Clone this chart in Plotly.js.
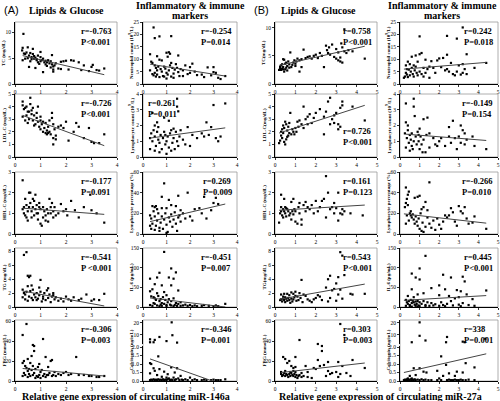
<!DOCTYPE html>
<html><head><meta charset="utf-8">
<script src="https://cdn.plot.ly/plotly-3.0.1.min.js"></script>
<style>body{margin:0;background:#fff}#chart{width:500px;height:401px}</style>
</head><body><div id="chart"></div>
<script>
// ---------- DATA ----------
// Group A: miR-146a (x 0-4)
const ptsA_TC = [[0.33,9.7],[0.28,6.5],[0.3,7.0],[0.3,4.6],[0.4,5.8],[0.45,6.1],[0.5,7.1],[0.5,5.0],[0.55,5.5],[0.6,4.4],[0.6,6.0],[0.65,5.2],[0.7,6.8],[0.7,5.8],[0.75,5.4],[0.75,4.9],[0.8,5.1],[0.8,3.1],[0.85,4.6],[0.9,5.5],[0.9,4.2],[0.95,3.9],[1.0,6.2],[1.0,4.4],[1.05,4.6],[1.1,2.3],[1.1,4.9],[1.15,4.2],[1.2,3.8],[1.2,4.5],[1.25,3.5],[1.3,4.6],[1.35,4.0],[1.4,3.2],[1.45,5.6],[1.45,3.8],[1.5,2.4],[1.5,2.8],[1.55,3.6],[1.6,4.0],[1.7,3.0],[1.8,2.9],[1.8,4.3],[1.9,4.4],[2.0,4.5],[2.1,2.8],[2.2,4.6],[2.3,4.5],[2.5,4.2],[2.6,2.7],[2.7,3.6],[2.9,2.5],[3.0,3.3],[3.05,3.7],[3.2,2.7],[3.3,2.6],[3.5,3.0],[0.35,5.9],[0.4,4.9],[0.55,3.3],[0.65,4.8],[0.85,4.8],[1.0,5.2],[1.25,4.2],[1.4,4.4],[1.5,3.4]];
const fitA_TC = [[0.3,5.5],[3.5,1.8]];

const ptsA_Neut = [[0.45,22.8],[0.5,18.5],[0.7,19.2],[1.2,19.3],[0.3,12.0],[1.0,12.6],[1.1,12.8],[1.15,12.2],[1.05,11.0],[1.5,11.5],[0.6,11.2],[0.7,9.8],[0.8,9.5],[0.4,8.5],[0.35,9.0],[0.5,7.5],[0.55,6.5],[0.6,5.5],[0.3,5.5],[0.4,4.0],[0.45,3.5],[0.5,4.5],[0.6,3.8],[0.65,7.0],[0.75,6.0],[0.8,5.0],[0.85,3.2],[0.9,7.0],[0.95,6.2],[1.0,4.5],[1.05,3.8],[1.1,5.5],[1.15,7.5],[1.2,8.5],[1.25,6.5],[1.3,4.2],[1.35,5.8],[1.4,8.0],[1.45,6.5],[1.5,4.8],[1.55,3.2],[1.6,6.0],[1.7,5.5],[1.8,7.5],[1.9,4.0],[2.0,6.8],[2.1,8.2],[2.2,5.0],[2.3,3.6],[2.5,3.8],[2.6,2.8],[2.75,6.7],[2.9,3.5],[3.0,4.8],[3.1,4.5],[3.2,2.5],[3.3,2.0],[3.0,6.8],[1.0,2.2],[0.9,3.0],[0.7,2.8],[1.2,3.0],[0.55,3.0],[1.3,2.5],[1.7,3.2],[2.0,4.5],[3.5,3.2]];
const fitA_Neut = [[0.3,8.0],[3.5,3.2]];

const ptsA_LDL = [[0.3,4.4],[0.3,4.1],[0.35,3.8],[0.4,3.9],[0.45,3.3],[0.5,3.6],[0.55,3.0],[0.6,4.7],[0.6,4.2],[0.65,3.4],[0.65,3.7],[0.7,3.9],[0.7,2.9],[0.75,3.3],[0.8,2.6],[0.85,3.1],[0.9,4.0],[0.9,2.8],[0.95,2.4],[1.0,3.2],[1.0,2.2],[1.05,2.6],[1.1,2.8],[1.1,2.0],[1.15,2.3],[1.2,2.7],[1.2,1.9],[1.25,2.1],[1.3,1.9],[1.3,2.4],[1.35,2.0],[1.4,1.8],[1.45,3.5],[1.45,3.1],[1.5,2.6],[1.5,1.5],[1.5,1.0],[1.55,2.2],[1.6,1.7],[1.7,2.4],[1.8,2.5],[1.9,2.3],[2.0,2.8],[2.1,1.3],[2.3,2.0],[2.4,2.7],[2.5,2.4],[2.7,1.5],[2.9,2.3],[3.0,1.2],[3.1,1.1],[3.3,1.1],[3.5,1.8],[0.3,3.2],[0.4,2.9],[0.5,2.7],[0.55,3.6],[0.75,2.5],[0.85,3.5],[1.0,2.9],[1.25,1.8],[1.35,2.9],[1.6,1.4],[0.45,4.0]];
const fitA_LDL = [[0.3,3.3],[3.5,0.9]];

const ptsA_LymC = [[1.45,3.7],[1.45,3.2],[1.5,2.9],[3.0,3.3],[3.5,3.4],[0.4,2.8],[0.9,2.5],[1.1,2.3],[0.5,2.0],[0.6,2.2],[2.7,2.2],[1.9,1.9],[2.9,1.9],[0.3,1.2],[0.35,1.5],[0.4,1.0],[0.45,1.7],[0.5,1.3],[0.55,0.7],[0.6,1.6],[0.65,1.1],[0.7,0.9],[0.75,1.4],[0.8,0.5],[0.85,1.2],[0.9,1.6],[0.95,0.8],[1.0,1.0],[1.05,1.3],[1.1,0.6],[1.15,1.5],[1.2,1.7],[1.25,0.9],[1.3,1.2],[1.35,0.5],[1.4,1.6],[1.45,1.0],[1.5,0.7],[1.55,1.3],[1.6,1.7],[1.7,1.1],[1.8,0.8],[2.0,0.7],[2.1,1.4],[2.3,1.2],[2.5,1.5],[2.6,1.3],[2.8,1.4],[3.1,1.2],[3.2,1.0],[3.3,1.3],[0.3,0.5],[0.5,0.4],[0.7,0.3],[1.0,0.2],[1.2,0.4],[0.95,1.4],[0.65,1.9],[1.3,1.8]];
const fitA_LymC = [[0.3,1.2],[3.5,1.85]];

const ptsA_HDL = [[0.3,2.6],[0.3,1.2],[0.35,1.0],[0.4,0.9],[0.45,1.4],[0.5,0.65],[0.5,1.1],[0.55,2.0],[0.6,2.0],[0.6,1.5],[0.65,0.8],[0.7,1.3],[0.7,1.7],[0.75,1.6],[0.8,1.2],[0.8,1.9],[0.85,1.4],[0.9,1.0],[0.9,0.7],[0.95,1.5],[1.0,0.5],[1.0,1.2],[1.05,0.4],[1.1,1.3],[1.1,0.8],[1.15,1.1],[1.2,0.9],[1.25,1.2],[1.3,0.6],[1.35,1.7],[1.4,1.0],[1.45,1.5],[1.5,1.1],[1.5,0.8],[1.55,1.3],[1.6,0.9],[1.7,1.0],[1.8,1.45],[1.9,1.1],[2.0,1.2],[2.05,0.9],[2.2,1.6],[2.35,1.15],[2.5,0.8],[2.7,1.3],[2.95,1.9],[3.0,1.15],[3.2,1.0],[3.5,0.55],[0.35,1.3],[0.45,0.8],[0.55,1.3],[0.65,1.1],[0.75,0.9],[0.85,1.0],[0.95,1.3],[1.2,0.65],[1.3,1.0],[1.4,1.3],[0.4,1.7]];
const fitA_HDL = [[0.3,1.25],[3.5,0.95]];

const ptsA_LymP = [[0.9,49],[1.5,37],[1.9,40],[2.6,36],[3.1,35],[3.0,30],[3.2,29],[0.8,36],[1.1,33],[0.5,26],[0.55,27],[0.6,24],[0.4,27],[1.0,25],[1.4,27],[1.6,23],[0.3,18],[0.35,15],[0.4,10],[0.45,22],[0.5,17],[0.55,8],[0.6,13],[0.65,20],[0.7,6],[0.75,11],[0.8,17],[0.85,5],[0.9,14],[0.95,20],[1.0,9],[1.05,2],[1.1,16],[1.15,12],[1.2,19],[1.25,7],[1.3,14],[1.35,21],[1.4,10],[1.45,3],[1.5,16],[1.55,18],[1.6,12],[1.7,20],[1.8,15],[2.0,17],[2.1,13],[2.2,24],[2.4,25],[2.5,20],[2.7,15],[2.9,23],[0.3,8],[0.35,5],[0.5,4],[0.7,3],[1.0,1],[0.8,25],[1.2,28]];
const fitA_LymP = [[0.3,12],[3.5,29]];

const ptsA_TG = [[0.35,7.5],[0.45,7.9],[0.5,4.5],[0.55,4.3],[0.6,4.5],[1.0,3.9],[0.3,2.5],[0.35,2.0],[0.4,1.8],[0.45,2.2],[0.5,3.0],[0.55,1.5],[0.6,2.3],[0.65,3.1],[0.7,1.0],[0.75,1.8],[0.8,1.4],[0.85,2.0],[0.9,1.2],[0.95,1.7],[1.0,2.2],[1.05,0.8],[1.1,1.5],[1.15,2.0],[1.2,1.0],[1.25,2.4],[1.3,1.3],[1.35,1.8],[1.4,0.7],[1.45,1.5],[1.5,2.0],[1.55,1.1],[1.6,1.4],[1.7,0.9],[1.8,1.2],[1.9,0.8],[2.0,1.5],[2.1,1.1],[2.2,0.9],[2.3,1.4],[2.5,1.0],[2.6,1.2],[2.8,1.8],[3.0,0.9],[3.1,1.1],[3.3,1.0],[3.5,1.9],[0.3,1.4],[0.4,1.1],[0.5,0.9],[0.65,1.3],[0.7,2.5],[0.85,1.0],[0.95,2.8],[1.1,1.2],[1.3,2.7],[1.5,1.7]];
const fitA_TG = [[0.3,2.3],[3.5,0.15]];

const ptsA_IL6 = [[0.9,140],[1.2,98],[0.7,87],[1.4,88],[0.6,75],[1.1,75],[1.3,72],[0.3,72],[0.5,58],[0.8,55],[1.2,55],[0.4,45],[0.3,40],[1.5,42],[0.6,35],[0.9,38],[1.0,30],[0.35,27],[0.45,25],[0.5,22],[0.55,18],[0.65,28],[0.7,15],[0.75,20],[0.8,10],[0.85,25],[0.9,8],[0.95,18],[1.0,5],[1.05,12],[1.1,20],[1.15,6],[1.2,15],[1.3,22],[1.35,5],[1.4,10],[1.45,3],[1.5,8],[1.6,12],[1.7,4],[1.8,6],[1.9,3],[2.0,5],[2.1,2],[2.2,4],[2.3,2],[2.5,3],[2.6,5],[2.8,3],[3.0,2],[3.1,4],[3.2,2],[3.5,8],[0.3,5],[0.4,3],[0.5,8],[0.6,4],[0.7,2],[0.8,3],[1.0,2],[1.2,4],[1.3,2],[1.6,3],[0.45,10],[0.75,6]];
const fitA_IL6 = [[0.3,23],[3.5,0]];

const ptsA_FBG = [[0.45,57],[0.3,46],[1.1,42],[0.7,36],[0.75,35],[0.75,30],[0.65,25],[1.2,24],[0.5,22],[0.3,18],[0.35,20],[0.4,15],[0.45,13],[0.5,10],[0.55,12],[0.6,18],[0.65,11],[0.7,15],[0.75,8],[0.8,12],[0.85,5],[0.9,14],[0.95,6],[1.0,9],[1.05,11],[1.1,5],[1.15,7],[1.2,4],[1.3,14],[1.35,8],[1.4,20],[1.45,21],[1.5,6],[1.55,9],[1.6,5],[1.7,7],[1.8,6],[1.9,8],[2.0,9],[2.1,6],[2.2,7],[2.4,24],[2.5,6],[2.7,6],[2.9,5],[3.0,5],[3.2,4],[3.3,4],[3.5,5],[0.3,5],[0.35,8],[0.4,6],[0.5,4],[0.55,7],[0.6,5],[0.7,6],[0.8,3],[0.9,4],[1.0,3],[1.25,6],[1.45,5],[0.95,17],[1.3,6]];
const fitA_FBG = [[0.3,12.5],[3.5,5]];

const ptsA_Calc = [[1.22,20.5],[1.25,9.5],[0.7,8.0],[0.3,6.0],[0.5,5.5],[1.0,4.5],[0.3,3.5],[0.45,3.5],[1.45,3.2],[0.65,1.45],[0.3,1.05],[0.35,1.0],[0.45,0.75],[0.3,0.45],[0.5,0.6],[0.7,0.7],[0.9,0.55],[1.05,0.4],[1.2,0.8],[1.35,0.5],[1.45,0.75],[1.6,0.3],[0.6,0.35],[0.8,0.25],[1.0,0.2],[1.1,0.15],[1.3,0.2],[1.5,0.15],[1.8,0.1],[2.0,0.2],[2.2,0.1],[0.3,0.05],[0.35,0.08],[0.4,0.05],[0.45,0.1],[0.5,0.05],[0.55,0.08],[0.6,0.05],[0.65,0.1],[0.7,0.05],[0.75,0.08],[0.8,0.05],[0.85,0.1],[0.9,0.05],[0.95,0.08],[1.0,0.05],[1.05,0.1],[1.15,0.05],[1.2,0.08],[1.25,0.05],[1.35,0.05],[1.4,0.1],[1.55,0.05],[1.65,0.08],[1.7,0.05],[1.9,0.05],[2.1,0.05],[2.3,0.05],[2.5,0.05],[2.7,0.05],[2.9,0.05],[3.1,0.05],[3.2,0.05],[3.3,0.05],[3.5,0.1],[2.6,0.08],[3.0,0.08]];
const fitA_Calc = [[0.3,1.3],[2.95,0.0]];

// Group B: miR-27a (x 0-5)
const ptsB_TC = [[3.4,9.7],[3.25,7.2],[2.8,7.0],[2.65,6.5],[2.55,6.0],[2.5,6.8],[3.0,6.2],[3.1,5.6],[3.3,6.5],[3.4,5.8],[3.6,6.0],[3.8,5.8],[4.4,4.5],[3.2,4.7],[3.1,4.2],[3.0,4.5],[3.2,4.0],[3.3,3.8],[2.9,4.8],[2.7,5.2],[2.4,3.0],[2.3,5.0],[2.2,5.5],[2.0,5.2],[1.9,5.0],[1.8,4.5],[1.7,4.9],[1.5,4.6],[1.4,6.1],[1.3,4.4],[1.2,4.2],[1.1,4.5],[1.05,4.0],[1.0,3.6],[0.95,4.2],[0.9,3.8],[0.85,3.4],[0.8,3.0],[0.75,5.6],[0.7,3.5],[0.65,4.0],[0.6,3.2],[0.55,2.9],[0.5,3.6],[0.45,4.3],[0.4,4.4],[0.4,3.0],[0.35,2.7],[0.3,3.3],[0.3,2.5],[0.25,2.8],[0.2,2.5],[0.45,2.2],[0.5,2.6],[0.6,2.4],[0.7,2.9],[1.0,3.2],[1.2,2.2],[1.3,3.0],[0.55,3.8],[0.35,3.5],[0.25,3.0],[0.4,2.6],[2.6,5.5],[2.1,4.6],[1.6,4.8],[3.5,5.5]];
const fitB_TC = [[0.2,3.3],[4.4,6.7]];

const ptsB_Neut = [[3.2,22.8],[1.0,19.2],[2.4,19.4],[2.9,18.3],[1.1,12.5],[1.0,12.0],[2.4,11.8],[3.4,12.0],[0.6,11.0],[0.8,11.5],[2.2,10.5],[2.0,10.3],[1.9,9.5],[1.6,9.2],[1.3,9.8],[0.9,9.0],[0.4,9.0],[0.5,8.0],[0.3,7.5],[0.35,6.0],[0.3,4.5],[0.25,3.0],[0.2,2.5],[0.4,2.8],[0.5,3.5],[0.55,5.0],[0.6,6.5],[0.65,4.0],[0.7,3.0],[0.75,5.5],[0.8,7.0],[0.85,4.5],[0.9,3.5],[1.0,5.0],[1.1,4.0],[1.2,3.0],[1.3,4.5],[1.4,6.0],[1.5,2.5],[1.5,7.0],[1.7,6.5],[1.8,4.5],[2.1,6.8],[2.3,5.5],[2.5,5.0],[2.6,8.5],[2.7,4.0],[2.8,3.5],[2.9,5.0],[3.0,7.5],[3.2,4.5],[3.3,6.0],[3.4,4.0],[3.2,8.0],[3.8,6.5],[4.4,8.5],[0.45,5.8],[0.35,3.8],[0.7,7.5],[1.2,6.5],[2.4,6.0],[3.1,3.8]];
const fitB_Neut = [[0.2,6.0],[4.4,8.7]];

const ptsB_LDL = [[2.7,4.7],[2.6,4.4],[3.3,4.4],[3.3,4.1],[3.8,4.0],[3.2,3.9],[2.5,3.6],[2.9,3.3],[3.0,3.5],[1.4,4.0],[1.7,3.4],[1.5,3.0],[1.6,3.2],[2.2,3.8],[2.0,3.5],[1.9,3.1],[1.8,2.7],[2.4,3.2],[2.8,3.0],[3.1,2.6],[3.1,2.2],[3.2,2.4],[2.9,2.7],[2.7,2.6],[2.4,1.8],[4.4,2.9],[1.2,2.9],[1.3,2.6],[1.1,2.8],[1.0,2.3],[0.9,2.0],[0.8,1.8],[0.75,3.5],[0.7,2.7],[0.65,2.4],[0.6,2.1],[0.55,2.6],[0.5,2.8],[0.45,2.3],[0.4,1.9],[0.35,2.2],[0.3,1.7],[0.25,1.3],[0.2,1.1],[0.35,1.5],[0.45,1.2],[0.5,1.0],[0.55,1.4],[0.6,1.6],[0.7,1.9],[0.85,2.2],[0.95,1.8],[1.05,2.0],[1.15,2.4],[1.4,2.3],[1.6,2.6],[0.3,2.0],[0.4,2.5],[0.65,1.7]];
const fitB_LDL = [[0.2,1.9],[4.4,4.1]];

const ptsB_LymC = [[0.3,3.4],[0.7,3.7],[0.7,3.2],[0.75,2.6],[0.3,2.2],[0.4,2.0],[1.2,2.4],[1.4,2.5],[2.7,2.3],[3.1,2.0],[2.5,1.9],[3.2,1.7],[3.3,1.5],[0.25,1.5],[0.35,1.2],[0.4,1.7],[0.45,0.9],[0.5,1.4],[0.55,1.1],[0.6,0.7],[0.6,1.5],[0.65,0.5],[0.7,1.0],[0.8,1.3],[0.85,0.8],[0.9,1.6],[0.95,1.0],[1.0,0.5],[1.05,1.3],[1.1,0.8],[1.2,1.1],[1.3,0.3],[1.35,1.4],[1.5,1.5],[1.5,0.6],[1.7,1.2],[1.8,0.8],[1.9,0.7],[2.0,1.0],[2.1,1.2],[2.3,0.7],[2.5,1.3],[2.6,0.9],[2.8,1.2],[2.9,0.5],[3.0,1.3],[3.1,0.9],[3.3,0.8],[3.4,1.1],[3.7,1.3],[3.8,0.7],[4.4,0.5],[0.3,0.6],[0.5,0.4],[1.0,1.8],[1.15,0.3],[0.95,1.4]];
const fitB_LymC = [[0.3,1.45],[4.4,1.05]];

const ptsB_HDL = [[2.5,2.8],[2.6,2.0],[3.1,2.0],[2.4,1.7],[2.3,1.6],[2.0,1.6],[1.8,1.4],[1.5,1.55],[1.4,1.4],[1.2,1.5],[0.9,1.7],[0.8,1.55],[0.3,1.9],[0.45,1.7],[0.5,1.3],[0.4,1.2],[0.3,1.1],[0.25,1.0],[0.2,0.55],[0.35,0.9],[0.4,0.8],[0.45,1.1],[0.5,1.0],[0.55,0.85],[0.6,1.2],[0.65,1.1],[0.7,0.9],[0.75,1.0],[0.8,0.7],[0.85,1.1],[0.9,0.95],[0.95,1.2],[1.0,1.1],[1.0,0.6],[1.1,0.5],[1.2,1.0],[1.3,0.7],[1.3,0.45],[1.5,1.1],[1.6,1.3],[1.7,1.2],[1.9,1.0],[2.1,1.1],[2.2,1.3],[2.5,0.8],[2.7,1.2],[2.8,1.3],[2.9,1.0],[3.0,1.25],[3.1,0.65],[3.2,1.0],[3.3,0.95],[3.4,1.1],[3.7,1.0],[4.3,0.9],[0.3,1.3],[0.55,1.25],[1.15,1.3],[2.9,1.5],[3.3,1.2]];
const fitB_HDL = [[0.2,1.15],[4.4,1.4]];

const ptsB_LymP = [[1.5,50],[0.3,45],[0.45,41],[0.4,38],[0.35,34],[0.3,30],[0.25,26],[0.4,28],[0.75,35],[0.9,36],[1.0,37],[1.3,31],[1.2,26],[1.4,23],[0.5,20],[0.55,18],[0.6,16],[0.65,19],[0.7,14],[0.75,10],[0.8,17],[0.85,12],[0.9,8],[0.95,15],[1.0,5],[1.05,20],[1.1,3],[1.15,11],[1.2,2],[1.3,7],[1.4,16],[1.5,10],[1.6,6],[1.7,13],[1.8,4],[1.9,15],[2.0,9],[2.1,5],[2.2,12],[2.4,16],[2.5,18],[2.6,25],[2.7,21],[2.8,12],[2.9,8],[3.0,27],[3.1,22],[3.2,20],[3.3,26],[3.4,15],[3.5,10],[3.7,11],[3.8,17],[4.4,5],[0.35,18],[0.45,13],[0.55,22],[0.3,10],[1.1,24],[2.3,18]];
const fitB_LymP = [[0.2,19.5],[4.4,10.5]];

const ptsB_TG = [[3.2,7.9],[3.3,7.4],[2.7,4.5],[3.4,4.6],[3.1,4.3],[2.6,4.0],[3.0,3.4],[1.3,3.9],[2.5,2.8],[2.8,2.4],[2.9,2.6],[3.2,2.5],[3.8,1.8],[4.4,1.9],[2.2,1.5],[2.0,1.3],[1.9,1.1],[1.7,0.9],[1.5,1.6],[1.4,1.8],[1.2,2.0],[1.1,1.5],[1.0,2.2],[0.9,1.9],[0.8,2.1],[0.7,1.7],[0.6,1.9],[0.5,1.4],[0.4,1.2],[0.3,1.8],[0.25,1.0],[0.3,1.1],[0.35,0.8],[0.4,1.5],[0.45,1.0],[0.5,0.7],[0.55,1.2],[0.6,0.9],[0.65,1.3],[0.7,1.0],[0.75,0.6],[0.8,1.2],[0.85,0.8],[0.9,1.1],[0.95,1.4],[1.05,0.9],[1.15,1.0],[1.25,1.3],[1.35,0.7],[1.6,1.1],[1.8,0.7],[2.1,1.7],[2.3,1.0],[2.6,0.8],[2.7,1.3],[3.0,0.9],[3.1,1.8],[3.3,1.2],[3.7,1.9],[0.45,1.9],[1.0,1.6]];
const fitB_TG = [[0.2,1.1],[4.4,3.3]];

const ptsB_IL6 = [[1.3,130],[1.0,98],[0.6,85],[2.2,82],[3.2,77],[0.8,75],[2.6,75],[1.0,70],[3.3,65],[2.0,55],[0.6,45],[1.6,48],[2.3,45],[2.9,43],[4.4,42],[3.1,40],[1.2,35],[0.9,32],[3.4,32],[0.4,28],[0.7,25],[2.0,30],[2.5,28],[2.8,22],[3.0,25],[3.7,20],[0.3,18],[0.35,12],[0.4,8],[0.45,15],[0.5,5],[0.55,18],[0.6,10],[0.65,16],[0.7,12],[0.75,6],[0.8,14],[0.85,8],[0.9,15],[0.95,4],[1.0,12],[1.1,8],[1.2,15],[1.3,5],[1.4,12],[1.5,3],[1.6,10],[1.7,4],[1.8,7],[2.0,3],[2.1,12],[2.2,5],[2.4,8],[2.6,15],[2.7,4],[3.0,6],[3.2,10],[3.5,5],[3.8,3],[0.3,3],[0.5,2],[0.8,3],[1.0,2],[1.3,2],[2.3,2],[3.1,2],[0.6,1],[0.9,1]];
const fitB_IL6 = [[0.2,17],[4.4,29]];

const ptsB_FBG = [[3.2,57],[3.4,46],[1.2,41],[2.1,37],[2.3,35],[2.3,30],[1.0,24],[0.4,24],[2.1,21],[2.6,19],[3.1,19],[3.8,21],[2.2,15],[2.4,16],[3.3,15],[4.4,13],[0.5,22],[0.6,18],[0.7,20],[0.8,15],[0.9,13],[1.0,14],[1.5,15],[1.9,13],[2.0,12],[2.6,10],[2.8,8],[3.0,9],[3.2,7],[3.5,8],[3.7,5],[0.3,7],[0.35,5],[0.4,6],[0.45,8],[0.5,5],[0.55,7],[0.6,6],[0.65,4],[0.7,7],[0.75,5],[0.8,8],[0.85,6],[0.9,5],[0.95,7],[1.0,4],[1.05,6],[1.1,3],[1.15,5],[1.2,6],[1.3,4],[1.4,5],[1.6,4],[1.8,3],[2.5,5],[2.7,7],[3.1,4],[0.3,9],[0.5,10],[0.75,9],[1.0,9],[1.3,8],[0.9,10],[1.6,9]];
const fitB_FBG = [[0.3,8.5],[4.4,18]];

const ptsB_Calc = [[1.0,20.5],[1.0,9.0],[0.6,3.5],[1.3,5.0],[2.35,3.5],[2.4,8.0],[3.2,4.0],[3.3,3.5],[4.35,6.5],[2.1,1.45],[3.35,1.05],[2.35,0.95],[3.8,0.8],[0.7,0.75],[1.0,0.75],[0.5,0.3],[0.6,0.15],[0.8,0.35],[1.2,0.55],[1.35,0.5],[1.9,0.6],[2.2,0.3],[2.5,0.45],[2.8,0.3],[2.9,0.55],[3.2,0.5],[2.0,0.15],[0.4,0.15],[0.2,0.05],[0.25,0.08],[0.3,0.05],[0.35,0.1],[0.4,0.05],[0.45,0.08],[0.5,0.05],[0.55,0.1],[0.6,0.05],[0.65,0.08],[0.7,0.05],[0.75,0.1],[0.8,0.05],[0.9,0.08],[1.0,0.05],[1.1,0.1],[1.2,0.05],[1.3,0.08],[1.45,0.05],[1.6,0.05],[1.9,0.05],[2.1,0.05],[2.4,0.05],[2.5,0.08],[2.6,0.05],[2.7,0.05],[2.8,0.08],[2.9,0.05],[3.0,0.05],[3.1,0.08],[3.2,0.05],[3.35,0.05],[3.5,0.08],[3.8,0.05]];
const fitB_Calc = [[0.2,0.5],[4.4,1.6]];

// Labels / texts
const yLabelsA1 = ['TC (mg/dL)','LDL-C (mg/dL)','HDL-C (mg/dL)','TG (mg/dL)','FBG (mmol/L)'];
const yLabelsB1 = ['TC(mg/dL)','LDL-C(mg/dL)','HDL-C (mg/dL)','TG(mg/dL)','FBG (mmol/L)'];
const yLabels2 = ['Neutrophil count (10<sup>9</sup>/L)','Lymphocyte count (10<sup>9</sup>/L)','Lymphocyte percentage (%)','IL-6 (pg/mL)','Calcitonin (ng/mL)'];
const statsA1 = [['r=-0.763','P<0.001'],['r=-0.726','P<0.001'],['r=-0.177','P=0.091'],['r=-0.541','P <0.001'],['r=-0.306','P=0.003']];
const statsA2 = [['r=-0.254','P=0.014'],['r=0.261','P=0.011'],['r=0.269','P=0.009'],['r=-0.451','P=0.007'],['r=-0.346','P=0.001']];
const statsB1 = [['r=0.758','P<0.001'],['r=0.726','P<0.001'],['r=0.161','P=0.123'],['r=0.543','P<0.001'],['r=0.303','P=0.003']];
const statsB2 = [['r=0.242','P=0.018'],['r=-0.149','P=0.154'],['r=-0.266','P=0.010'],['r=0.445','P<0.001'],['r=338','P=0.001']];
const xTicksA = [0,1,2,3,4];
const xTicksB = [0,1,2,3,4,5];
const calcLowTicks = [0,0.5,1.0,1.5,2.0];
const calcHighTicks = [10,20];
const groupTitles = ['(A)','(B)'];
const colTitles = ['Lipids & Glucose','Inflammatory & immune','markers'];
const xTitles = ['Relative gene expression of circulating miR-146a','Relative gene expression of circulating miR-27a'];

// ---------- LAYOUT ----------
const W=500,H=401;
const SERIF='"Liberation Serif","Times New Roman",serif';
const cols = {A1:[15,117],A2:[143,237],B1:[275,377],B2:[400,498]};
const rows = [[22,84],[94,157],[172,234],[248,307],[320,381]];

const panels = [
 {c:'A1',r:0,p:ptsA_TC,f:fitA_TC,yr:[0,12],yt:[0,5,10],lab:yLabelsA1[0],st:statsA1[0],pos:'tr'},
 {c:'A1',r:1,p:ptsA_LDL,f:fitA_LDL,yr:[0,5],yt:[0,1,2,3,4,5],lab:yLabelsA1[1],st:statsA1[1],pos:'tr'},
 {c:'A1',r:2,p:ptsA_HDL,f:fitA_HDL,yr:[0,3],yt:[0,1,2,3],lab:yLabelsA1[2],st:statsA1[2],pos:'tr'},
 {c:'A1',r:3,p:ptsA_TG,f:fitA_TG,yr:[0,8.5],yt:[0,2,4,6,8],lab:yLabelsA1[3],st:statsA1[3],pos:'tr'},
 {c:'A1',r:4,p:ptsA_FBG,f:fitA_FBG,yr:[0,61],yt:[0,20,40,60],lab:yLabelsA1[4],st:statsA1[4],pos:'tr'},
 {c:'A2',r:0,p:ptsA_Neut,f:fitA_Neut,yr:[0,25],yt:[0,5,10,15,20,25],lab:yLabels2[0],st:statsA2[0],pos:'tr'},
 {c:'A2',r:1,p:ptsA_LymC,f:fitA_LymC,yr:[0,4],yt:[0,1,2,3,4],lab:yLabels2[1],st:statsA2[1],pos:'tl'},
 {c:'A2',r:2,p:ptsA_LymP,f:fitA_LymP,yr:[0,60],yt:[0,20,40,60],lab:yLabels2[2],st:statsA2[2],pos:'tr'},
 {c:'A2',r:3,p:ptsA_IL6,f:fitA_IL6,yr:[0,150],yt:[0,50,100,150],lab:yLabels2[3],st:statsA2[3],pos:'tr'},
 {c:'A2',r:4,p:ptsA_Calc,f:fitA_Calc,brk:true,lab:yLabels2[4],st:statsA2[4],pos:'tr'},
 {c:'B1',r:0,p:ptsB_TC,f:fitB_TC,yr:[0,11],yt:[0,5,10],lab:yLabelsB1[0],st:statsB1[0],pos:'tr'},
 {c:'B1',r:1,p:ptsB_LDL,f:fitB_LDL,yr:[0,5],yt:[0,1,2,3,4,5],lab:yLabelsB1[1],st:statsB1[1],pos:'br'},
 {c:'B1',r:2,p:ptsB_HDL,f:fitB_HDL,yr:[0,3],yt:[0,1,2,3],lab:yLabelsB1[2],st:statsB1[2],pos:'tr'},
 {c:'B1',r:3,p:ptsB_TG,f:fitB_TG,yr:[0,8.5],yt:[0,2,4,6,8],lab:yLabelsB1[3],st:statsB1[3],pos:'tr'},
 {c:'B1',r:4,p:ptsB_FBG,f:fitB_FBG,yr:[0,61],yt:[0,20,40,60],lab:yLabelsB1[4],st:statsB1[4],pos:'tr'},
 {c:'B2',r:0,p:ptsB_Neut,f:fitB_Neut,yr:[0,25],yt:[0,5,10,15,20,25],lab:yLabels2[0],st:statsB2[0],pos:'tr'},
 {c:'B2',r:1,p:ptsB_LymC,f:fitB_LymC,yr:[0,4],yt:[0,1,2,3,4],lab:yLabels2[1],st:statsB2[1],pos:'tr'},
 {c:'B2',r:2,p:ptsB_LymP,f:fitB_LymP,yr:[0,60],yt:[0,20,40,60],lab:yLabels2[2],st:statsB2[2],pos:'tr'},
 {c:'B2',r:3,p:ptsB_IL6,f:fitB_IL6,yr:[0,150],yt:[0,50,100,150],lab:yLabels2[3],st:statsB2[3],pos:'tr'},
 {c:'B2',r:4,p:ptsB_Calc,f:fitB_Calc,brk:true,lab:yLabels2[4],st:statsB2[4],pos:'tr'}
];

const px = v => v/W, py = v => 1 - v/H;
const sfx = n => n===1 ? '' : String(n);
const tickfont = {family:SERIF, size:5.5, color:'#000'};
const axBase = {showline:true, linecolor:'#000', linewidth:1, ticks:'outside', ticklen:2, tickwidth:0.8, tickcolor:'#000',
  showgrid:false, zeroline:false, tickfont:tickfont, fixedrange:true, tickmode:'array'};

const layout = {width:W, height:H, margin:{l:0,r:0,t:0,b:0}, paper_bgcolor:'#fff', plot_bgcolor:'#fff',
  showlegend:false, shapes:[], annotations:[]};
const traces = [];
const mk = {size:2.2, color:'#000', symbol:'square'};
let extra = 21;

panels.forEach((P,i)=>{
  const n=i+1, s=sfx(n);
  const [l,r] = cols[P.c], [t,b] = rows[P.r];
  const isA = P.c[0]==='A';
  layout['xaxis'+s] = Object.assign({}, axBase, {domain:[px(l),px(r)], range:isA?[0,4]:[0,5],
     tickvals:isA?xTicksA:xTicksB, anchor:'y'+s});
  layout.shapes.push({type:'rect', xref:'paper', yref:'paper', x0:px(l), x1:px(r), y0:py(b), y1:py(t),
     line:{color:'#9a9a9a', width:0.8}, layer:'below'});
  if(!P.brk){
    layout['yaxis'+s] = Object.assign({}, axBase, {domain:[py(b),py(t)], range:P.yr, tickvals:P.yt, anchor:'x'+s});
    traces.push({type:'scatter', mode:'markers', x:P.p.map(d=>d[0]), y:P.p.map(d=>d[1]), xaxis:'x'+s, yaxis:'y'+s, marker:mk, hoverinfo:'skip'});
  } else {
    const split = 346;
    layout['yaxis'+s] = Object.assign({}, axBase, {domain:[py(b),py(split)], range:[0,2.06], tickvals:calcLowTicks, tickformat:'.1f', anchor:'x'+s});
    const e = extra++;
    layout['yaxis'+e] = Object.assign({}, axBase, {domain:[py(344),py(t)], range:[2,22.5], tickvals:calcHighTicks, anchor:'x'+s});
    const lo = P.p.filter(d=>d[1]<=2), hi = P.p.filter(d=>d[1]>2);
    traces.push({type:'scatter', mode:'markers', x:lo.map(d=>d[0]), y:lo.map(d=>d[1]), xaxis:'x'+s, yaxis:'y'+s, marker:mk, hoverinfo:'skip'});
    traces.push({type:'scatter', mode:'markers', x:hi.map(d=>d[0]), y:hi.map(d=>d[1]), xaxis:'x'+s, yaxis:'y'+e, marker:mk, hoverinfo:'skip'});
  }
  traces.push({type:'scatter', mode:'lines', x:P.f.map(d=>d[0]), y:P.f.map(d=>d[1]), xaxis:'x'+s, yaxis:'y'+s,
     line:{color:'#444', width:1}, hoverinfo:'skip'});
  // y label
  const labX = (P.c==='A1'||P.c==='B1') ? l-11 : l-12;
  layout.annotations.push({xref:'paper', yref:'paper', x:px(labX), y:py((t+b)/2), text:'<b>'+P.lab+'</b>', textangle:-90,
     showarrow:false, font:{family:SERIF, size:5, color:'#000'}, xanchor:'center', yanchor:'middle'});
  // stats
  let ax, ay, xa, ya;
  if(P.pos==='tr'){ ax=r-3; ay=t+2; xa='right'; ya='top'; }
  else if(P.pos==='tl'){ ax=l+3; ay=t+2; xa='left'; ya='top'; }
  else { ax=r-3; ay=b-8; xa='right'; ya='bottom'; }
  layout.annotations.push({xref:'paper', yref:'paper', x:px(ax), y:py(ay), xanchor:xa, yanchor:ya, align:'left', showarrow:false,
     text:'<b>'+P.st[0]+'<br>'+P.st[1].replace('<','&lt;')+'</b>', font:{family:SERIF, size:8.5, color:'#000'}});
});

// titles
const tAnn = (x,y,txt,size,fam,xa)=>layout.annotations.push({xref:'paper',yref:'paper',x:px(x),y:py(y),text:txt,showarrow:false,
   font:{family:fam,size:size,color:'#000'},xanchor:xa||'center',yanchor:'middle'});
tAnn(2,10,groupTitles[0],11,'Liberation Sans, Arial, sans-serif','left');
tAnn(252,10,groupTitles[1],11,'Liberation Sans, Arial, sans-serif','left');
tAnn(66,10,'<b>'+colTitles[0]+'</b>',10,SERIF);
tAnn(318,10,'<b>'+colTitles[0]+'</b>',10,SERIF);
tAnn(190,6,'<b>'+colTitles[1]+'</b>',10,SERIF);
tAnn(190,16,'<b>'+colTitles[2]+'</b>',10,SERIF);
tAnn(442,6,'<b>'+colTitles[1]+'</b>',10,SERIF);
tAnn(442,16,'<b>'+colTitles[2]+'</b>',10,SERIF);
tAnn(126,396.5,'<b>'+xTitles[0]+'</b>',10,SERIF);
tAnn(380,396.5,'<b>'+xTitles[1]+'</b>',10,SERIF);

Plotly.newPlot('chart', traces, layout, {staticPlot:true, displayModeBar:false});
</script>
</body></html>
